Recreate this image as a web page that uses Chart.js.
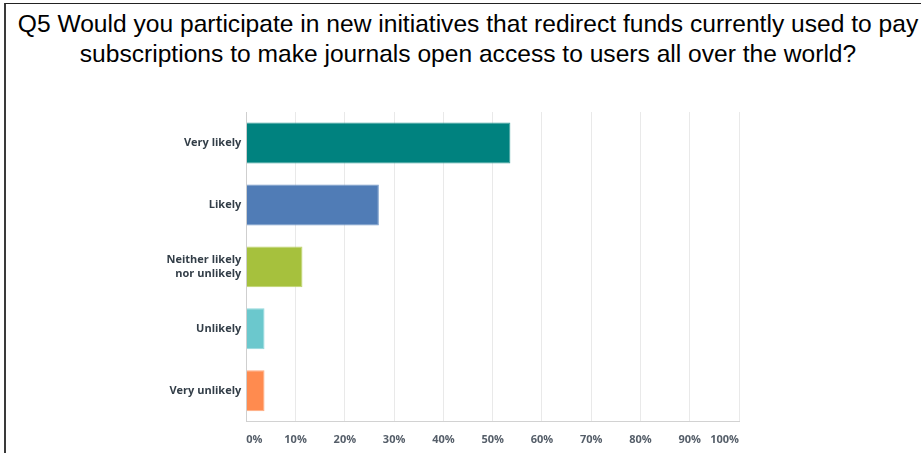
<!DOCTYPE html>
<html>
<head>
<meta charset="utf-8">
<script src="https://cdn.jsdelivr.net/npm/chart.js@4/dist/chart.umd.min.js"></script>
<style>
  html, body { margin: 0; padding: 0; background: #fff; }
  #wrap { position: relative; width: 921px; height: 453px; overflow: hidden; background: #fff; }
  #frame { position: absolute; left: 4px; top: 3px; width: 917px; height: 450px;
           border-left: 2px solid #3a3a3a; border-top: 1.5px solid #222; box-sizing: border-box; }
  #title { position: absolute; left: 0; width: 936px; top: 9px; text-align: center;
           font-family: "Liberation Sans", Arial, sans-serif; font-size: 24.6px; line-height: 30px; color: #000;
           white-space: nowrap; }
  canvas { position: absolute; left: 0; top: 0; }
</style>
</head>
<body>
<div id="wrap">
  <div id="frame"></div>
  <div id="title">Q5 Would you participate in new initiatives that redirect funds currently used to pay<br>subscriptions to make journals open access to users all over the world?</div>
  <canvas id="c" width="921" height="453"></canvas>
</div>
<script>
const categories = ["Very likely", "Likely", ["Neither likely", "nor unlikely"], "Unlikely", "Very unlikely"];
const values = [53.6, 26.9, 11.4, 3.7, 3.7];
const barColors = ["#00827f", "#507cb6", "#a6c13d", "#6bc8cd", "#ff8b4f"];
const barBorders = ["#3a9f9c", "#7398c8", "#bfd46d", "#92d8dc", "#ffab80"];
const tickValues = [0, 10, 20, 30, 40, 50, 60, 70, 80, 90, 100];

new Chart(document.getElementById('c'), {
  type: 'bar',
  data: {
    labels: categories,
    datasets: [{
      data: values,
      backgroundColor: barColors,
      borderColor: barBorders,
      borderWidth: 1,
      borderSkipped: 'left',
      categoryPercentage: 0.661,
      barPercentage: 1.0
    }]
  },
  options: {
    indexAxis: 'y',
    responsive: false,
    animation: false,
    devicePixelRatio: 1,
    layout: { padding: { top: 112, right: 182, left: 0, bottom: 0 } },
    plugins: { legend: { display: false }, tooltip: { enabled: false }, title: { display: false } },
    scales: {
      x: {
        min: 0, max: 100,
        afterBuildTicks: (scale) => { scale.ticks = tickValues.map(v => ({ value: v })); },
        afterFit: (scale) => { scale.height = 31.3; },
        grid: { color: '#e9e9e9', lineWidth: 1, drawTicks: false },
        border: { display: true, color: '#d2d2d2', width: 1 },
        ticks: {
          align: 'inner',
          autoSkip: false,
          maxRotation: 0,
          padding: 12,
          color: '#555e69',
          font: { family: "'Open Sans', sans-serif", size: 11, weight: 'bold' },
          callback: (v) => v + '%'
        }
      },
      y: {
        afterFit: (scale) => { scale.width = 246.3; },
        grid: { display: false, drawTicks: false },
        border: { display: true, color: '#cfcfcf', width: 1 },
        ticks: {
          padding: 5,
          color: '#333e48',
          font: { family: "'Open Sans', sans-serif", size: 11, weight: 'bold', lineHeight: 1.3 }
        }
      }
    }
  }
});
</script>
</body>
</html>
